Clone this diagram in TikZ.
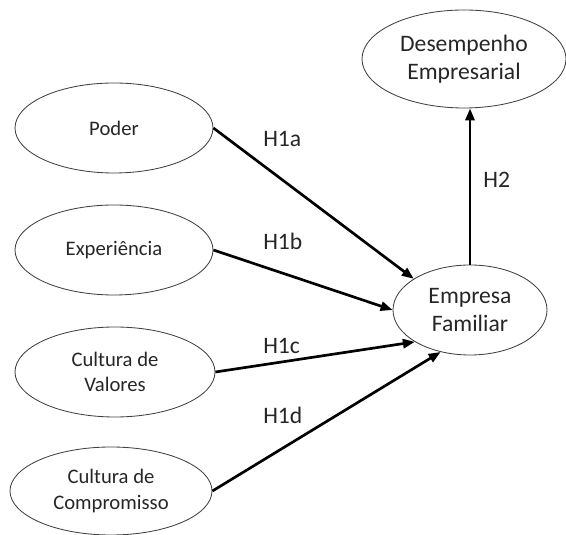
\documentclass[tikz,border=0pt]{standalone}
\usepackage{fontspec}
\setmainfont{Carlito}
\usetikzlibrary{shapes.geometric,arrows.meta}

\begin{document}
\begin{tikzpicture}[
	construto/.style={ellipse, draw=black!75, line width=0.6pt, inner sep=0pt, align=center, text=black!85, font=\fontsize{14.7}{17.8}\selectfont},
	grande/.style={font=\fontsize{16.8}{20.1}\selectfont},
	hipotese/.style={anchor=base west, inner sep=0pt, text=black!85, font=\fontsize{16.8}{20}\selectfont},
	seta/.style={-{Triangle[length=8.5pt,width=6.5pt]}, line width=1.9pt}]
	\useasboundingbox (0,0) rectangle (14.15,13.375);
	\node[construto, minimum width=4.95cm, minimum height=2.25cm] (poder) at (2.85,10.175) {Poder};
	\node[construto, minimum width=4.95cm, minimum height=2.25cm] (exp) at (2.85,7.125) {Experiência};
	\node[construto, minimum width=5cm, minimum height=2.25cm] (valores) at (2.875,4.075) {Cultura de\\Valores};
	\node[construto, minimum width=5.05cm, minimum height=2.2cm] (comp) at (2.775,1.1) {Cultura de\\Compromisso};
	\node[construto, grande, minimum width=3.85cm, minimum height=2.25cm] (emp) at (11.75,5.625) {Empresa\\Familiar};
	\node[construto, grande, minimum width=5.1cm, minimum height=2.45cm] (des) at (11.6,11.9) {Desempenho\\Empresarial};
	% hipoteses
	\draw[seta] (poder.east) -- (emp.151);
	\draw[seta] (exp.east) -- (emp.west);
	\draw[seta] (valores.east) -- (emp.210);
	\draw[seta] (comp.east) -- (emp.235);
	\draw[seta] (emp.north) -- (emp.north |- des.south);
	\node[hipotese] (h1a) at (6.575,9.7) {H1a};
	\node[hipotese] (h1b) at (6.575,7.125) {H1b};
	\node[hipotese] (h1c) at (6.575,4.525) {H1c};
	\node[hipotese] (h1d) at (6.575,2.775) {H1d};
	\node[hipotese] (h2) at (12.075,8.675) {H2};
\end{tikzpicture}
\end{document}
